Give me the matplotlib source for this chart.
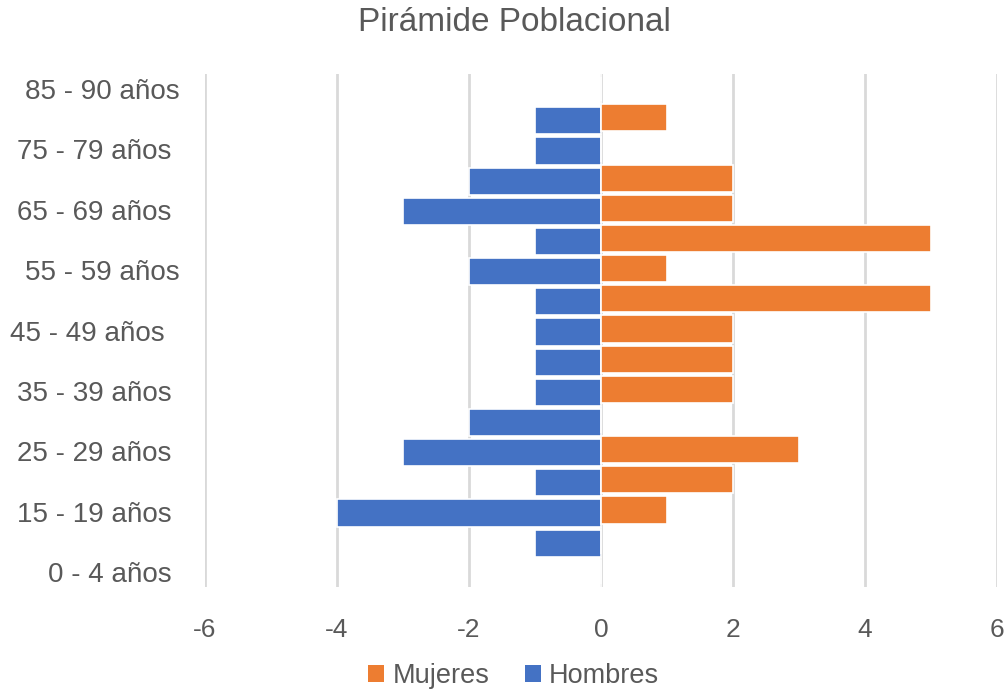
import matplotlib
matplotlib.use("Agg")
import matplotlib.pyplot as plt
import matplotlib.transforms as mtransforms
import numpy as np

plt.rcParams['font.family'] = ['Liberation Sans', 'DejaVu Sans']

# Age groups, bottom to top
categories = ['0 - 4 años', '5 - 14 años', '15 - 19 años', '20 - 24 años',
              '25 - 29 años', '30 - 34 años', '35 - 39 años', '40 - 44 años',
              '45 - 49 años', '50 - 54 años', '55 - 59 años', '60 - 64 años',
              '65 - 69 años', '70 - 74 años', '75 - 79 años', '80 - 84 años',
              '85 - 90 años']
hombres = [0, -1, -4, -1, -3, -2, -1, -1, -1, -1, -2, -1, -3, -2, -1, -1, 0]
mujeres = [0, 0, 1, 2, 3, 0, 2, 2, 2, 5, 1, 5, 2, 2, 0, 1, 0]
xticks = [-6, -4, -2, 0, 2, 4, 6]

C_MUJ = '#ED7D31'
C_HOM = '#4472C4'
C_TXT = '#595959'
C_GRID = '#D9D9D9'

fig = plt.figure(figsize=(10.05, 6.91), dpi=100)
ax = fig.add_axes([0.204, 0.1505, 0.788, 0.7424])

y = np.arange(len(categories))
ax.barh(y - 0.05, hombres, height=0.9, color=C_HOM, edgecolor='white',
        linewidth=1.2, label='Hombres', zorder=3)
ax.barh(y + 0.05, mujeres, height=0.9, color=C_MUJ, edgecolor='white',
        linewidth=1.2, label='Mujeres', zorder=3)

ax.set_xlim(-6, 6)
ax.set_ylim(-0.5, len(categories) - 0.5)
ax.set_xticks(xticks)
ax.set_xticklabels([str(v) for v in xticks])
ax.set_yticks(y[::2])
ax.set_yticklabels(categories[::2])
ax.tick_params(axis='both', length=0, colors=C_TXT)
ax.tick_params(axis='x', pad=22, labelsize=19)
ax.tick_params(axis='y', pad=24, labelsize=20)

# nudge a few labels sideways
shifts = {'85 - 90 años': 8, '55 - 59 años': 8, '45 - 49 años': -7}
for lab in ax.get_yticklabels():
    dx = shifts.get(lab.get_text(), 0)
    if dx:
        lab.set_transform(lab.get_transform() +
                          mtransforms.ScaledTranslation(dx / 100, 0, fig.dpi_scale_trans))

ax.grid(axis='x', color=C_GRID, linewidth=2, zorder=0)
ax.grid(axis='y', visible=False)
for s in ax.spines.values():
    s.set_visible(False)

fig.text(0.512, 0.968, 'Pirámide Poblacional', ha='center', va='center',
         fontsize=24, color=C_TXT)

handles, labels = ax.get_legend_handles_labels()
leg = fig.legend(handles[::-1], labels[::-1], loc='center', bbox_to_anchor=(0.511, 0.022),
                 ncol=2, frameon=False, fontsize=19.5, labelcolor=C_TXT,
                 handlelength=0.6, handleheight=0.6, handletextpad=0.3,
                 columnspacing=1.3)
for h in leg.legend_handles:
    h.set_edgecolor('none')

fig.savefig('out.png', dpi=100)
